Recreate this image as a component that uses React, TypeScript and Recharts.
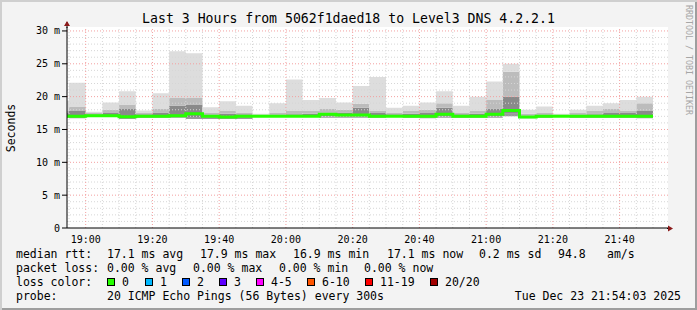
import React from 'react';
import {
  ComposedChart,
  Area,
  Line,
  XAxis,
  YAxis,
  ReferenceLine,
  CartesianGrid,
} from 'recharts';

// bar start times, minutes after 18:00 (5 minute steps)
const times = [
  50, 55, 60, 65, 70, 75, 80, 85, 90, 95, 100, 105, 110, 115, 120, 125, 130, 135,
  140, 145, 150, 155, 160, 165, 170, 175, 180, 185, 190, 195, 200, 205, 210, 215, 220, 225,
];

// smoke, in ms
const minRtt = [
  16.8, 16.7, 16.9, 16.9, 16.6, 16.8, 16.8, 16.8, 16.6, 16.6, 16.6, 16.6, 16.9, 16.9, 16.9, 16.9, 16.8, 16.8,
  16.8, 16.8, 16.9, 16.8, 16.7, 16.8, 16.8, 16.8, 16.8, 17.0, 16.7, 16.8, 16.9, 16.8, 16.8, 16.8, 16.8, 16.7,
];
const p25 = [
  16.95, 16.9, 17.0, 17.0, 16.8, 16.9, 16.9, 17.0, 16.9, 16.8, 16.8, 16.8, 16.95, 16.95, 16.95, 16.95, 17.0, 17.0,
  17.0, 16.9, 16.95, 16.9, 16.8, 17.0, 16.9, 16.9, 17.0, 17.4, 16.8, 16.9, 16.95, 16.9, 16.9, 16.9, 16.9, 16.8,
];
const p75 = [
  17.5, 17.8, 17.3, 17.5, 18.1, 17.3, 17.6, 18.6, 18.8, 17.2, 17.4, 17.3, 17.1, 17.2, 17.3, 17.4, 17.6, 17.6,
  18.3, 17.5, 17.3, 17.4, 17.5, 18.3, 17.3, 17.4, 18.2, 20.0, 17.1, 17.2, 17.1, 17.2, 17.3, 17.5, 17.5, 17.8,
];
const p90 = [
  17.9, 18.5, 17.5, 18.0, 18.8, 17.6, 18.2, 19.8, 19.8, 17.6, 17.9, 17.6, 17.2, 17.5, 17.8, 17.8, 18.1, 18.0,
  18.9, 17.9, 17.6, 17.9, 18.0, 19.0, 17.6, 17.8, 19.5, 23.8, 17.4, 17.5, 17.2, 17.5, 17.9, 18.2, 17.9, 19.0,
];
const maxRtt = [
  19.4, 22.1, 17.7, 19.1, 20.8, 17.9, 20.5, 26.9, 26.6, 18.4, 19.3, 18.6, 17.4, 19.0, 22.6, 19.5, 19.8, 19.1,
  21.6, 23.0, 18.3, 18.6, 19.1, 20.8, 18.6, 20.0, 22.3, 25.0, 18.0, 18.5, 17.4, 18.0, 18.6, 19.0, 19.5, 20.0,
];
const median = [
  17.0, 17.0, 17.1, 17.1, 16.95, 17.0, 17.0, 17.1, 17.4, 17.0, 16.9, 17.0, 17.0, 17.0, 17.0, 17.0, 17.3, 17.2,
  17.2, 17.0, 17.0, 17.0, 17.0, 17.3, 17.0, 17.0, 17.3, 17.9, 16.9, 17.0, 17.0, 17.0, 17.0, 17.0, 17.0, 17.0,
];

const xTicks = [60, 80, 100, 120, 140, 160, 180, 200, 220];
const yTicks = [0, 5, 10, 15, 20, 25, 30];

const rows = times.map((t, i) => ({
  t,
  base: minRtt[i],
  s1: p25[i] - minRtt[i],
  s2: p75[i] - p25[i],
  s3: p90[i] - p75[i],
  s4: maxRtt[i] - p90[i],
  median: median[i],
}));
// close the last step
const data = [...rows, { ...rows[rows.length - 1], t: times[times.length - 1] + 5 }];

const minorX: number[] = [];
for (let m = 55; m <= 230; m += 5) if (m % 20 !== 0) minorX.push(m);
const minorY: number[] = [];
for (let v = 1; v < 31; v++) if (v % 5 !== 0) minorY.push(v);

const fmtTime = (m: number) => `${18 + Math.floor(m / 60)}:${String(m % 60).padStart(2, '0')}`;

const mono = '"DejaVu Sans Mono", monospace';

const lossColors = [
  { label: '0', color: '#26ff00', x: 107 },
  { label: '1', color: '#00b8ff', x: 145 },
  { label: '2', color: '#0059ff', x: 182 },
  { label: '3', color: '#5e00ff', x: 219 },
  { label: '4-5', color: '#ff00ff', x: 256 },
  { label: '6-10', color: '#ff5500', x: 307 },
  { label: '11-19', color: '#ff0000', x: 365 },
  { label: '20/20', color: '#a10000', x: 430 },
];

const row1: [number, string][] = [
  [16, 'median rtt:'], [107, '17.1 ms avg'], [200, '17.9 ms max'], [293, '16.9 ms min'],
  [387, '17.1 ms now'], [479, '0.2 ms sd'], [558, '94.8'], [607, 'am/s'],
];
const row2: [number, string][] = [
  [16, 'packet loss:'], [107, '0.00 % avg'], [193, '0.00 % max'], [279, '0.00 % min'], [364, '0.00 % now'],
];

const txt = (x: number, y: number, s: string, key?: string) => (
  <div key={key} style={{ position: 'absolute', left: x, top: y, lineHeight: '14px', whiteSpace: 'pre' }}>{s}</div>
);

export default function App() {
  return (
    <div
      style={{
        position: 'absolute', left: 0, top: 0, width: 697, height: 310, background: '#f3f3f3',
        boxShadow: 'inset 2px 2px 0 #cfcfcf, inset -2px -2px 0 #9e9e9e', fontFamily: mono, color: '#000',
        overflow: 'hidden',
      }}
    >
      <ComposedChart
        width={697}
        height={310}
        data={data}
        margin={{ top: 27, right: 29, bottom: 52, left: 10 }}
        style={{ position: 'absolute', left: 0, top: 0 }}
      >
        <CartesianGrid fill="#ffffff" horizontal={false} vertical={false} />
        <XAxis
          dataKey="t"
          type="number"
          domain={[54.4, 234.5]}
          allowDataOverflow
          ticks={xTicks}
          tickFormatter={fmtTime}
          tickLine={false}
          tickSize={6}
          tickMargin={2}
          axisLine={{ stroke: '#000' }}
          tick={{ fontFamily: mono, fontSize: 10, fill: '#000' }}
          height={30}
        />
        <YAxis
          type="number"
          domain={[0, 30.6]}
          allowDataOverflow
          ticks={yTicks}
          tickFormatter={(v: number) => (v === 0 ? '0' : `${v} m`)}
          width={57}
          tickSize={5}
          tickMargin={2}
          tickLine={{ stroke: '#000' }}
          axisLine={{ stroke: '#000' }}
          tick={{ fontFamily: mono, fontSize: 10, fill: '#000' }}
        />
        <Area dataKey="base" stackId="smoke" type="stepAfter" stroke="none" fill="#fff" fillOpacity={0} isAnimationActive={false} activeDot={false} />
        <Area dataKey="s1" stackId="smoke" type="stepAfter" stroke="none" fill="#9a9a9a" fillOpacity={1} isAnimationActive={false} activeDot={false} />
        <Area dataKey="s2" stackId="smoke" type="stepAfter" stroke="none" fill="#8a8a8a" fillOpacity={1} isAnimationActive={false} activeDot={false} />
        <Area dataKey="s3" stackId="smoke" type="stepAfter" stroke="none" fill="#bcbcbc" fillOpacity={1} isAnimationActive={false} activeDot={false} />
        <Area dataKey="s4" stackId="smoke" type="stepAfter" stroke="none" fill="#dddddd" fillOpacity={1} isAnimationActive={false} activeDot={false} />
        {minorX.map((m) => (
          <ReferenceLine key={'mx' + m} x={m} stroke="#d6d6d6" strokeDasharray="1 2" />
        ))}
        {minorY.map((v) => (
          <ReferenceLine key={'my' + v} y={v} stroke="#d6d6d6" strokeDasharray="1 2" />
        ))}
        {xTicks.map((m) => (
          <ReferenceLine key={'Mx' + m} x={m} stroke="#f3a0a0" strokeDasharray="1 2" />
        ))}
        {yTicks.slice(1).map((v) => (
          <ReferenceLine key={'My' + v} y={v} stroke="#f3a0a0" strokeDasharray="1 2" />
        ))}
        <Line dataKey="median" type="stepAfter" stroke="#26ff00" strokeWidth={3} dot={false} activeDot={false} isAnimationActive={false} />
      </ComposedChart>

      {/* axis arrows */}
      <svg width={697} height={310} style={{ position: 'absolute', left: 0, top: 0, pointerEvents: 'none' }}>
        <line x1={67} y1={22} x2={67} y2={28} stroke="#000" />
        <polygon points="64,26 70,26 67,21" fill="#8b1a1a" />
        <line x1={667} y1={228.5} x2={670} y2={228.5} stroke="#000" />
        <polygon points="668,225.5 668,231.5 673,228.5" fill="#8b1a1a" />
      </svg>

      <div style={{ position: 'absolute', left: 0, width: 697, top: 10, textAlign: 'center', fontSize: 13.2, lineHeight: '18px', whiteSpace: 'pre' }}>
        Last 3 Hours from 5062f1daed18 to Level3 DNS 4.2.2.1
      </div>
      <div
        style={{
          position: 'absolute', left: 11, top: 128, fontSize: 11.5, lineHeight: '14px', whiteSpace: 'pre',
          transform: 'translate(-50%, -50%) rotate(-90deg)',
        }}
      >
        Seconds
      </div>
      <div
        style={{
          position: 'absolute', left: 689, top: 60, fontSize: 8.3, lineHeight: '10px', whiteSpace: 'pre', color: '#a6a6a6',
          transform: 'translate(-50%, -50%) rotate(90deg)',
        }}
      >
        RRDTOOL / TOBI OETIKER
      </div>

      <div style={{ fontSize: 11.5 }}>
        {row1.map(([x, s], i) => txt(x, 247, s, 'a' + i))}
        {row2.map(([x, s], i) => txt(x, 261, s, 'b' + i))}
        {txt(16, 275, 'loss color:')}
        {lossColors.map((c) => (
          <React.Fragment key={c.label}>
            <div style={{ position: 'absolute', left: c.x, top: 278, width: 8, height: 8, background: c.color, border: '1px solid #000', boxSizing: 'border-box' }} />
            {txt(c.x + 15, 275, c.label)}
          </React.Fragment>
        ))}
        {txt(16, 289, 'probe:')}
        {txt(107, 289, '20 ICMP Echo Pings (56 Bytes) every 300s')}
        <div style={{ position: 'absolute', right: 16, top: 289, lineHeight: '14px', whiteSpace: 'pre' }}>Tue Dec 23 21:54:03 2025</div>
      </div>
    </div>
  );
}
